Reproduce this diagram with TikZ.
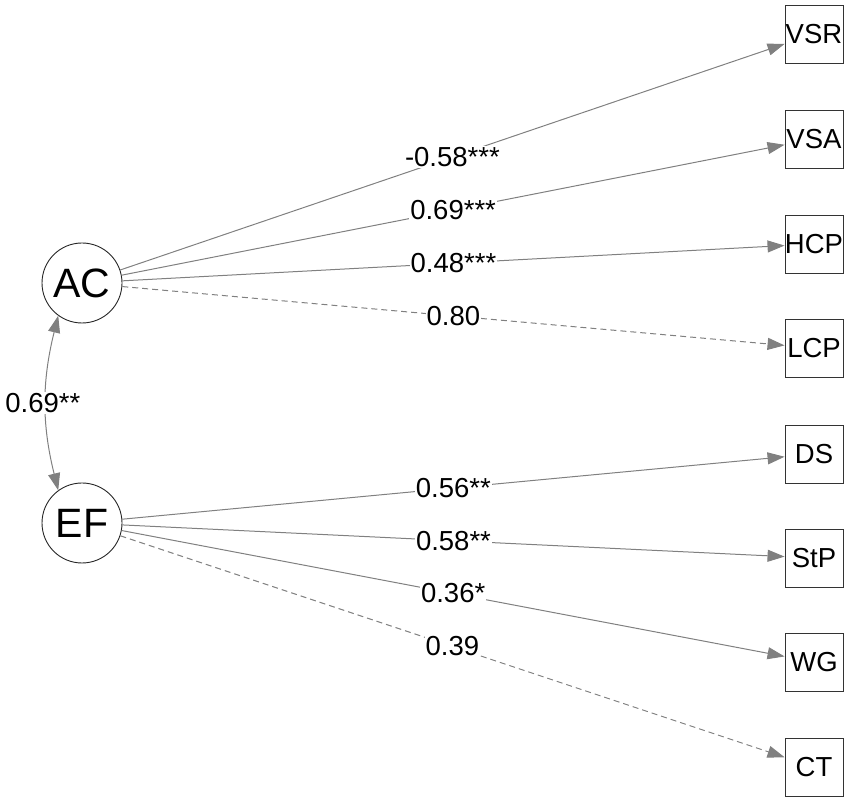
\documentclass[tikz,border=0pt]{standalone}
\usepackage{fontspec}
\setmainfont{Liberation Sans}
\usetikzlibrary{arrows.meta}
\begin{document}
\begin{tikzpicture}[x=1pt,y=1pt,
  lat/.style={circle,draw=black!85,line width=0.9pt,minimum size=80pt,inner sep=0pt,font=\fontsize{41}{43}\selectfont},
  obs/.style={rectangle,draw=black!80,line width=0.9pt,minimum width=58pt,minimum height=58pt,inner sep=0pt,font=\fontsize{27.5}{30}\selectfont},
  reg/.style={draw=black!50,line width=1pt,-{Triangle[length=17pt,width=12pt]}},
  regdash/.style={reg,dash pattern=on 6pt off 4pt},
  cov/.style={draw=black!50,line width=1pt,{Triangle[length=17pt,width=12pt]}-{Triangle[length=17pt,width=12pt]}},
  lbl/.style={fill=white,inner sep=1pt,font=\fontsize{27.5}{30}\selectfont,text=black},
]
\useasboundingbox (0,0) rectangle (851,803);
\node[lat] (AC) at (82,520) {AC};
\node[lat] (EF) at (82,280) {EF};
\node[obs] (VSR) at (814,769) {VSR};
\node[obs] (VSA) at (814,664) {VSA};
\node[obs] (HCP) at (814,559) {HCP};
\node[obs] (LCP) at (814,455) {LCP};
\node[obs] (DS)  at (814,349) {DS};
\node[obs] (StP) at (814,245) {StP};
\node[obs] (WG)  at (814,141) {WG};
\node[obs] (CT)  at (814,36)  {CT};

\draw[reg] (AC) -- node[lbl] {-0.58***} (VSR);
\draw[reg] (AC) -- node[lbl] {0.69***} (VSA);
\draw[reg] (AC) -- node[lbl] {0.48***} (HCP);
\draw[regdash] (AC) -- node[lbl] {0.80} (LCP);
\draw[reg] (EF) -- node[lbl] {0.56**} (DS);
\draw[reg] (EF) -- node[lbl] {0.58**} (StP);
\draw[reg] (EF) -- node[lbl] {0.36*} (WG);
\draw[regdash] (EF) -- node[lbl] {0.39} (CT);

\draw[cov] (AC.234) to[bend right=14] node[lbl,pos=0.5,xshift=-3pt] {0.69**} (EF.126);
\end{tikzpicture}
\end{document}
